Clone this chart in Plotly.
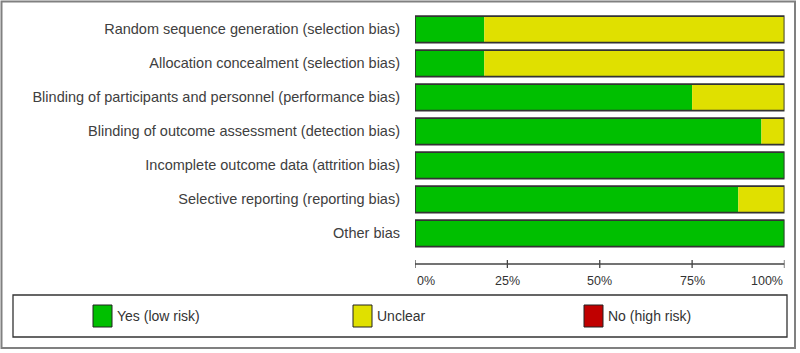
import plotly.graph_objects as go

# ---- data ----
domains = [
    "Random sequence generation (selection bias)",
    "Allocation concealment (selection bias)",
    "Blinding of participants and personnel (performance bias)",
    "Blinding of outcome assessment (detection bias)",
    "Incomplete outcome data (attrition bias)",
    "Selective reporting (reporting bias)",
    "Other bias",
]
low_risk = [18.75, 18.75, 75.0, 93.75, 100.0, 87.5, 100.0]
unclear = [81.25, 81.25, 25.0, 6.25, 0.0, 12.5, 0.0]
high_risk = [0.0, 0.0, 0.0, 0.0, 0.0, 0.0, 0.0]
tick_vals = [0, 25, 50, 75, 100]
tick_text = ["0%", "25%", "50%", "75%", "100%"]
legend_names = ["Yes (low risk)", "Unclear", "No (high risk)"]
legend_colors = ["#00BF00", "#E0E000", "#C00000"]

W, H = 800, 353
def px(x):
    return x / W
def py(y):
    return 1 - y / H

fig = go.Figure()
base_unclear = low_risk
base_high = [a + b for a, b in zip(low_risk, unclear)]
totals = [a + b + c for a, b, c in zip(low_risk, unclear, high_risk)]

fig.add_trace(go.Bar(y=domains, x=low_risk, base=[0] * len(domains), orientation="h",
                     marker=dict(color=legend_colors[0], line=dict(width=0)), name=legend_names[0]))
fig.add_trace(go.Bar(y=domains, x=unclear, base=base_unclear, orientation="h",
                     marker=dict(color=legend_colors[1], line=dict(width=0)), name=legend_names[1]))
fig.add_trace(go.Bar(y=domains, x=high_risk, base=base_high, orientation="h",
                     marker=dict(color=legend_colors[2], line=dict(width=0)), name=legend_names[2]))
fig.add_trace(go.Bar(y=domains, x=totals, base=[0] * len(domains), orientation="h",
                     marker=dict(color="rgba(0,0,0,0)", line=dict(width=1.8, color="#333333")),
                     showlegend=False, hoverinfo="skip"))

shapes = []
# axis line and ticks
shapes.append(dict(type="line", xref="x", yref="paper", x0=0, x1=100, y0=py(264), y1=py(264),
                   line=dict(color="#444", width=1.3)))
for tv in tick_vals:
    shapes.append(dict(type="line", xref="x", yref="paper", x0=tv, x1=tv, y0=py(260), y1=py(268),
                       line=dict(color="#444", width=1.3)))
# outer frame
shapes.append(dict(type="rect", xref="paper", yref="paper", x0=px(1.5), x1=px(795), y0=py(1.5), y1=py(348),
                   line=dict(color="#808080", width=2), fillcolor="rgba(0,0,0,0)"))
# legend box
shapes.append(dict(type="rect", xref="paper", yref="paper", x0=px(13), x1=px(787), y0=py(295), y1=py(337),
                   line=dict(color="#333", width=1.3), fillcolor="rgba(0,0,0,0)"))

annotations = []
for tv, tt in zip(tick_vals, tick_text):
    anchor = "left" if tv == 0 else ("right" if tv == 100 else "center")
    annotations.append(dict(x=tv, y=py(281), xref="x", yref="paper", text=tt, showarrow=False,
                            xanchor=anchor, yanchor="middle",
                            font=dict(family="Liberation Sans Narrow, Arial Narrow, Arial", size=12.5, color="#333")))

leg_x = [93, 353, 584]
for lx, name, col in zip(leg_x, legend_names, legend_colors):
    shapes.append(dict(type="rect", xref="paper", yref="paper", x0=px(lx), x1=px(lx + 19),
                       y0=py(305), y1=py(327), fillcolor=col, line=dict(color="#222", width=1)))
    annotations.append(dict(x=px(lx + 22), y=py(316), xref="paper", yref="paper", text=name,
                            showarrow=False, xanchor="left", yanchor="middle",
                            font=dict(family="Liberation Sans Narrow, Arial Narrow, Arial", size=14, color="#333")))

fig.update_layout(
    width=W, height=H,
    margin=dict(l=0, r=0, t=0, b=0),
    paper_bgcolor="white", plot_bgcolor="white",
    barmode="overlay", bargap=0.22,
    showlegend=False,
    shapes=shapes, annotations=annotations,
    xaxis=dict(domain=[px(415), px(784.5)], range=[0, 100], showgrid=False, zeroline=False,
               showticklabels=False, showline=False, fixedrange=True),
    yaxis=dict(domain=[py(250.3), py(12.3)], autorange="reversed", showgrid=False, zeroline=False,
               ticks="", ticklabelstandoff=14, showline=False,
               tickfont=dict(family="Arial, Liberation Sans", size=14.5, color="#404040")),
)

fig.write_html("out.html")
